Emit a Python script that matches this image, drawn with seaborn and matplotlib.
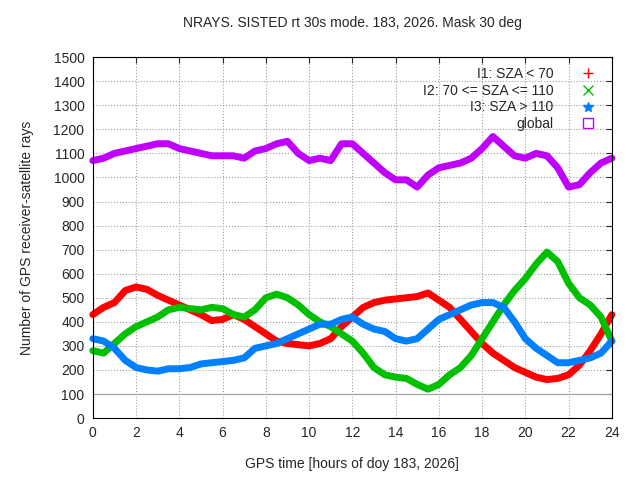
import numpy as np
import pandas as pd
import seaborn as sns
import matplotlib
matplotlib.use('Agg')
import matplotlib.pyplot as plt

hours = [i * 0.5 for i in range(49)]
i1 = [430, 460, 480, 530, 545, 535, 510, 490, 470, 450, 430, 405, 410, 430, 410, 380, 350, 320,
      310, 305, 300, 310, 330, 380, 420, 460, 480, 490, 495, 500, 505, 520, 490, 460, 410, 360,
      310, 270, 240, 210, 190, 170, 160, 165, 180, 220, 280, 350, 430]
i2 = [280, 270, 310, 350, 380, 400, 420, 450, 460, 455, 450, 460, 455, 430, 420, 450, 500, 515,
      500, 470, 430, 400, 380, 350, 320, 270, 210, 180, 170, 165, 140, 120, 140, 180, 210, 260,
      330, 400, 470, 530, 580, 640, 690, 650, 560, 500, 470, 420, 320]
i3 = [330, 320, 290, 240, 210, 200, 195, 205, 205, 210, 225, 230, 235, 240, 250, 290, 300, 310,
      330, 350, 370, 390, 390, 410, 420, 390, 370, 360, 330, 320, 330, 370, 410, 430, 450, 470,
      480, 480, 460, 400, 330, 290, 260, 230, 230, 240, 250, 270, 320]
glob = [1070, 1080, 1100, 1110, 1120, 1130, 1140, 1140, 1120, 1110, 1100, 1090, 1090, 1090, 1080,
        1110, 1120, 1140, 1150, 1100, 1070, 1080, 1070, 1140, 1140, 1100, 1060, 1020, 990, 990,
        960, 1010, 1040, 1050, 1060, 1080, 1120, 1170, 1130, 1090, 1080, 1100, 1090, 1040, 960,
        970, 1020, 1060, 1080]

series = [
    ('I1: SZA < 70', i1, '#ff0000', '+'),
    ('I2: 70 <= SZA <= 110', i2, '#00c000', 'x'),
    ('I3: SZA > 110', i3, '#0080ff', '*'),
    ('global', glob, '#c000ff', 's'),
]

sns.set_style('white')
plt.rcParams['font.family'] = ['Liberation Sans', 'DejaVu Sans']
fig = plt.figure(figsize=(6.4, 4.8), dpi=100)
ax = fig.add_axes([0.145, 0.129, 0.811, 0.752])

for label, vals, col, mk in series:
    df = pd.DataFrame({'t': hours, 'v': vals})
    sns.lineplot(data=df, x='t', y='v', ax=ax, color=col, lw=5, legend=False, clip_on=False)
    ax.plot([], [], ls='none', marker=mk, color=col, mfc='none' if mk == 's' else col,
            ms=7, mew=1, label=label)

ax.axhline(100, color='#a0a0a0', lw=0.8)
ax.set_xlim(0, 24)
ax.set_ylim(0, 1500)
ax.set_xticks(range(0, 25, 2))
ax.set_yticks(range(0, 1501, 100))
ax.grid(True, ls=':', color='#a0a0a0', lw=0.8)
for s in ax.spines.values():
    s.set_color('black')
    s.set_linewidth(0.8)
ax.tick_params(direction='in', labelsize=10, length=4, top=True, right=True, pad=6)
ax.set_xlabel('GPS time [hours of doy 183, 2026]', fontsize=10, labelpad=12)
ax.set_ylabel('Number of GPS receiver-satellite rays', fontsize=10, labelpad=14)
ax.set_title('NRAYS. SISTED rt 30s mode. 183, 2026. Mask 30 deg', fontsize=10, pad=22)
ax.legend(loc='upper right', frameon=False, markerfirst=False, fontsize=10,
          handletextpad=1.5, borderaxespad=0.3, labelspacing=0.2)
fig.savefig('out.png', dpi=100)
